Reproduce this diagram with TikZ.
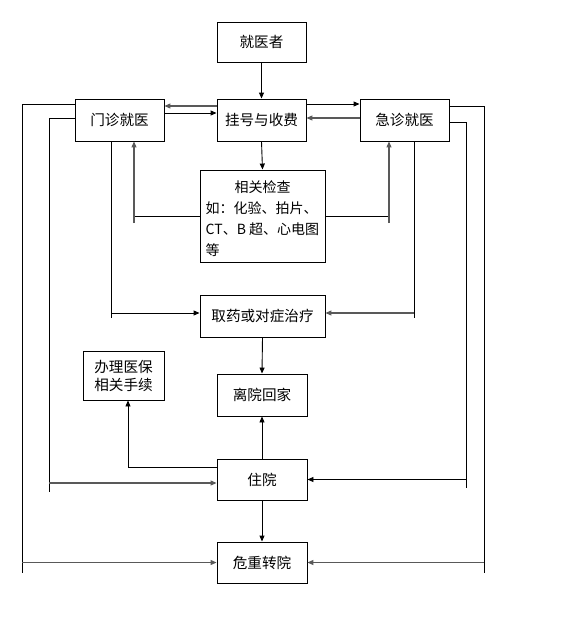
\documentclass[tikz,border=0pt]{standalone}
\usepackage{fontspec}
\newfontfamily\cjk{Noto Sans CJK SC}
\usetikzlibrary{arrows.meta,positioning}
\begin{document}
\begin{tikzpicture}[x=1pt,y=-1pt,
  box/.style={draw=black,line width=0.9pt,inner sep=0pt,font=\cjk\fontsize{14.6}{18}\selectfont},
  txt/.style={font=\cjk\fontsize{14}{17}\selectfont,inner sep=0pt},
  ln/.style={line width=0.9pt,draw=black},
  gln/.style={line width=1.1pt,draw=black!65},
  arr/.style={-{Triangle[length=6pt,width=5pt]}}]
\useasboundingbox (0,0) rectangle (564,632);
% boxes
\node[box,minimum width=89pt,minimum height=40pt] (jyz) at (261.5,42) {就医者};
\node[box,minimum width=89pt,minimum height=42pt] (gh) at (261.5,120) {挂号与收费};
\node[box,minimum width=89pt,minimum height=42pt] (mz) at (119.5,120) {门诊就医};
\node[box,minimum width=89pt,minimum height=42pt] (jz) at (404.5,120) {急诊就医};
\node[box,minimum width=125pt,minimum height=92pt] (jc) at (262.5,216) {};
\node[txt] (jc1) at (262.5,187) {相关检查};
\node[txt,anchor=west] (jc2) at (205.5,208) {如：化验、拍片、};
\node[txt,anchor=west] (jc3) at (205.5,229) {CT、B 超、心电图};
\node[txt,anchor=west] (jc4) at (205.5,250) {等};
\node[box,minimum width=125pt,minimum height=42pt] (qy) at (262.5,316) {取药或对症治疗};
\node[box,minimum width=81pt,minimum height=49pt,align=center] (bl) at (123.5,375.5) {办理医保\\相关手续};
\node[box,minimum width=90pt,minimum height=42pt] (ly) at (262,395) {离院回家};
\node[box,minimum width=90pt,minimum height=41pt] (zy) at (262,479.5) {住院};
\node[box,minimum width=90pt,minimum height=41pt] (wz) at (262,562.5) {危重转院};
% corner coordinates
\coordinate (cA) at (134,223);
\coordinate (cB) at (389,223);
\coordinate (cC) at (111,318);
\coordinate (cD) at (414,318);
\coordinate (cE) at (49,492);
\coordinate (cF) at (466,488);
\coordinate (cG) at (22,573);
\coordinate (cH) at (484,573);
% top connectors
\draw[ln,arr] (jyz.south) -- (gh.north);
\draw[gln,arr] ([yshift=14pt]gh.west) -- ([yshift=14pt]mz.east);
\draw[ln,arr] ([yshift=7pt]mz.east) -- ([yshift=7pt]gh.west);
\draw[ln,arr] ([yshift=16pt]gh.east) -- ([yshift=16pt]jz.west);
\draw[gln,arr] ([yshift=2pt]jz.west) -- ([yshift=2pt]gh.east);
\draw[ln,arr] (gh.south) -- (jc.north);
% exams back to clinics
\draw[ln] (jc.west) -- (jc.west -| cA);
\draw[gln,arr] (cA) -- (cA |- mz.south);
\draw[ln] (jc.east) -- (jc.east -| cB);
\draw[gln,arr] (cB) -- (cB |- jz.south);
% clinics to medicine
\draw[ln] (cC |- mz.south) -- (cC);
\draw[ln,arr] ([yshift=3pt]qy.west -| cC) -- ([yshift=3pt]qy.west);
\draw[ln] (cD |- jz.south) -- (cD);
\draw[gln,arr] ([yshift=3pt]qy.east -| cD) -- ([yshift=3pt]qy.east);
% lower chain
\draw[ln,arr] (qy.south) -- (ly.north);
\draw[ln,arr] (zy.north) -- (ly.south);
\draw[ln,arr] ([yshift=12.5pt]zy.west) -| ([xshift=4.5pt]bl.south);
\draw[ln,arr] (zy.south) -- (wz.north);
% clinics to hospitalisation
\draw[ln] ([yshift=2pt]mz.west) -| (cE);
\draw[gln,arr] ([yshift=-3.5pt]zy.west -| cE) -- ([yshift=-3.5pt]zy.west);
\draw[ln] ([yshift=-2pt]jz.east) -| (cF);
\draw[ln,arr] (zy.east -| cF) -- (zy.east);
% clinics to transfer
\draw[ln] ([yshift=16pt]mz.west) -| (cG);
\draw[gln,arr] (wz.west -| cG) -- (wz.west);
\draw[ln] ([yshift=14pt]jz.east) -| (cH);
\draw[gln,arr] (wz.east -| cH) -- (wz.east);
\end{tikzpicture}
\end{document}
